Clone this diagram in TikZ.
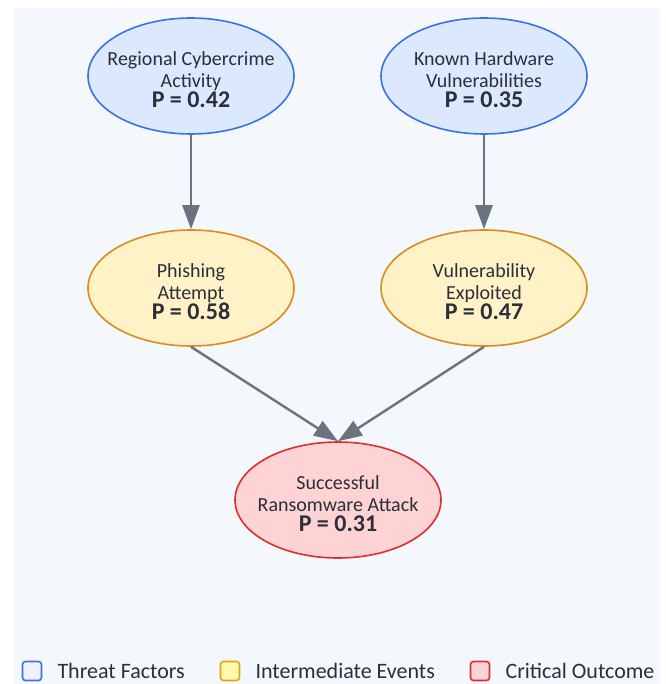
\documentclass[tikz,border=0pt]{standalone}
\usepackage{fontspec}
\setmainfont{Carlito}
\usetikzlibrary{shapes, arrows.meta}

\definecolor{bgcol}{HTML}{F4F7FC}
\definecolor{txtcol}{HTML}{2B2F3A}
\definecolor{linkcol}{HTML}{6B7280}
\definecolor{threatfill}{HTML}{DCE8FD}
\definecolor{threatline}{HTML}{3B74E2}
\definecolor{interfill}{HTML}{FEF2C6}
\definecolor{interline}{HTML}{DC8C1C}
\definecolor{critfill}{HTML}{FDD3D3}
\definecolor{critline}{HTML}{DC2F30}

\newcommand{\prob}[1]{\\[-2pt]\textbf{\fontsize{24}{24}\selectfont P = #1}}
\newcommand{\topgap}{\rule{0pt}{22pt}}

\begin{document}
\begin{tikzpicture}[x=1pt, y=-1pt,
  event/.style={ellipse, line width=1.6pt, minimum width=206pt, minimum height=116pt,
    inner xsep=-20pt, inner ysep=-6pt, align=center, text=txtcol, font=\fontsize{20}{22}\selectfont},
  threat/.style={event, draw=threatline, fill=threatfill},
  inter/.style={event, draw=interline, fill=interfill},
  crit/.style={event, draw=critline, fill=critfill},
  link/.style={-{Triangle[length=24pt, width=17pt]}, draw=linkcol, line width=2.4pt},
  key/.style={rounded corners=3pt, line width=1.6pt, minimum size=19pt, inner sep=0pt},
  keytext/.style={anchor=west, text=txtcol, font=\fontsize{22}{24}\selectfont}]

\useasboundingbox (0,0) rectangle (665,684);
\fill[bgcol] (14,8) rectangle (660,684);

% nodes
\node[threat] (region) at (191,76) {\topgap Regional Cybercrime\\Activity\prob{0.42}};
\node[threat] (hardware) at (484,76) {\topgap Known Hardware\\Vulnerabilities\prob{0.35}};
\node[inter] (phish) at (191,288) {\topgap Phishing\\Attempt\prob{0.58}};
\node[inter] (exploit) at (484,288) {\topgap Vulnerability\\Exploited\prob{0.47}};
\node[crit] (ransom) at (338,500) {\topgap Successful\\Ransomware Attack\prob{0.31}};

% edges
\draw[link] (region.south) -- (phish.north);
\draw[link] (hardware.south) -- (exploit.north);
\draw[link] (phish.south) -- (ransom.north);
\draw[link] (exploit.south) -- (ransom.north);

% legend
\node[key, draw=threatline, fill=threatfill!80!blue!20] (k1) at (32,671) {};
\node[keytext] at (54,671) {Threat Factors};
\node[key, draw=interline!80!yellow, fill=interfill!60!yellow!60] (k2) at (230,671) {};
\node[keytext] at (252,671) {Intermediate Events};
\node[key, draw=critline, fill=critfill] (k3) at (480,671) {};
\node[keytext] at (502,671) {Critical Outcome};

\end{tikzpicture}
\end{document}
